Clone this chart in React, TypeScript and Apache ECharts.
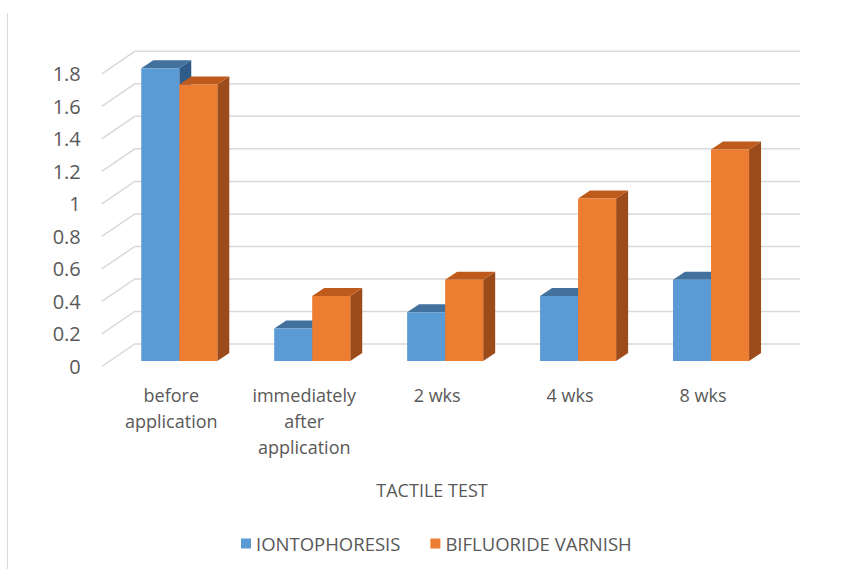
import React, { useEffect, useRef } from "react";
import * as echarts from "echarts";

const categories = ["before application", "immediately after application", "2 wks", "4 wks", "8 wks"];
const iontophoresis = [1.8, 0.2, 0.3, 0.4, 0.5];
const bifluorideVarnish = [1.7, 0.4, 0.5, 1.0, 1.3];
const seriesNames = ["IONTOPHORESIS", "BIFLUORIDE VARNISH"];
const yTicks = [0, 0.2, 0.4, 0.6, 0.8, 1.0, 1.2, 1.4, 1.6, 1.8];
const axisTitle = "TACTILE TEST";

const TEXT = "#595959";
const FONT = "'Open Sans', 'Noto Sans', sans-serif";

function makeBarRenderer(offset: number, front: string, top: string, side: string) {
  return (params: any, api: any) => {
    const idx = api.value(0);
    const v = api.value(1);
    const base = api.coord([idx, 0]);
    const peak = api.coord([idx, v]);
    const band = api.size([1, 0])[0];
    const w = band * 0.286;
    const x0 = base[0] + offset * w;
    const x1 = x0 + w;
    const yb = base[1];
    const yt = peak[1];
    const dx = 12;
    const dy = 8;
    return {
      type: "group",
      children: [
        {
          type: "polygon",
          shape: { points: [[x1, yt], [x1 + dx, yt - dy], [x1 + dx, yb - dy], [x1, yb]] },
          style: { fill: side },
        },
        {
          type: "polygon",
          shape: { points: [[x0, yt], [x0 + dx, yt - dy], [x1 + dx, yt - dy], [x1, yt]] },
          style: { fill: top },
        },
        {
          type: "rect",
          shape: { x: x0, y: yt, width: w, height: yb - yt },
          style: { fill: front },
        },
      ],
    };
  };
}

function renderGridLine(params: any, api: any) {
  const v = api.value(1);
  const band = api.size([1, 0])[0];
  const left = api.coord([0, v]);
  const right = api.coord([categories.length - 1, v]);
  const lx = left[0] - band / 2;
  const rx = right[0] + band / 2;
  const y = left[1];
  return {
    type: "polyline",
    shape: {
      points: [
        [lx - 11, y + 5.5],
        [lx + 22, y - 17],
        [rx + 22.5, y - 17],
      ],
    },
    style: { stroke: "#d9d9d9", lineWidth: 1.5, fill: "none" },
  };
}

export default function App() {
  const ref = useRef<HTMLDivElement>(null);
  useEffect(() => {
    if (!ref.current) return;
    const chart = echarts.init(ref.current, undefined, { renderer: "svg" });
    chart.setOption({
      animation: false,
      backgroundColor: "#ffffff",
      title: {
        text: axisTitle,
        left: 432,
        top: 481,
        textAlign: "center",
        padding: 0,
        textStyle: { fontFamily: FONT, fontSize: 18, fontWeight: "normal", color: TEXT },
      },
      legend: {
        data: seriesNames,
        left: 236,
        top: 529,
        icon: "rect",
        itemWidth: 10,
        itemHeight: 10,
        itemGap: 30,
        textStyle: { fontFamily: FONT, fontSize: 18.5, color: TEXT },
      },
      graphic: [
        {
          type: "line",
          shape: { x1: 7.5, y1: 13, x2: 7.5, y2: 569 },
          style: { stroke: "#d9d9d9", lineWidth: 1 },
        },
      ],
      grid: { left: 112.8, right: 65.5, top: 68.3, bottom: 208 },
      xAxis: {
        type: "category",
        data: categories,
        axisLine: { show: false },
        axisTick: { show: false },
        splitLine: { show: false },
        axisLabel: {
          interval: 0,
          margin: 21,
          color: TEXT,
          fontFamily: FONT,
          fontSize: 18,
          lineHeight: 26,
          formatter: (v: string) =>
            (v.indexOf("application") >= 0 ? v.split(" ") : [v]).map((l) => `{a|${l}}`).join("\n"),
          rich: {
            a: {
              color: TEXT,
              fontFamily: FONT,
              fontSize: 18,
              lineHeight: 26,
              padding: [0, 16, 0, 0],
            },
          },
        },
      },
      yAxis: {
        type: "value",
        min: 0,
        max: 1.8,
        interval: 0.2,
        axisLine: { show: false },
        axisTick: { show: false },
        splitLine: { show: false },
        axisLabel: {
          margin: 32,
          color: TEXT,
          fontFamily: FONT,
          fontSize: 20,
          verticalAlign: "top",
          lineHeight: 11,
        },
      },
      series: [
        {
          type: "custom",
          name: "grid",
          silent: true,
          renderItem: renderGridLine,
          data: yTicks.map((v) => [0, v]),
          z: 1,
        },
        {
          type: "custom",
          name: seriesNames[0],
          itemStyle: { color: "#5B9BD5" },
          renderItem: makeBarRenderer(-1, "#5B9BD5", "#41719C", "#2E5B87"),
          data: iontophoresis.map((v, i) => [i, v]),
          z: 2,
        },
        {
          type: "custom",
          name: seriesNames[1],
          itemStyle: { color: "#ED7D31" },
          renderItem: makeBarRenderer(0, "#ED7D31", "#BE5B1C", "#9C4C1B"),
          data: bifluorideVarnish.map((v, i) => [i, v]),
          z: 3,
        },
      ],
    });
    return () => chart.dispose();
  }, []);
  return (
    <div
      ref={ref}
      style={{ position: "absolute", left: 0, top: 0, width: 843, height: 569, background: "#fff" }}
    />
  );
}
